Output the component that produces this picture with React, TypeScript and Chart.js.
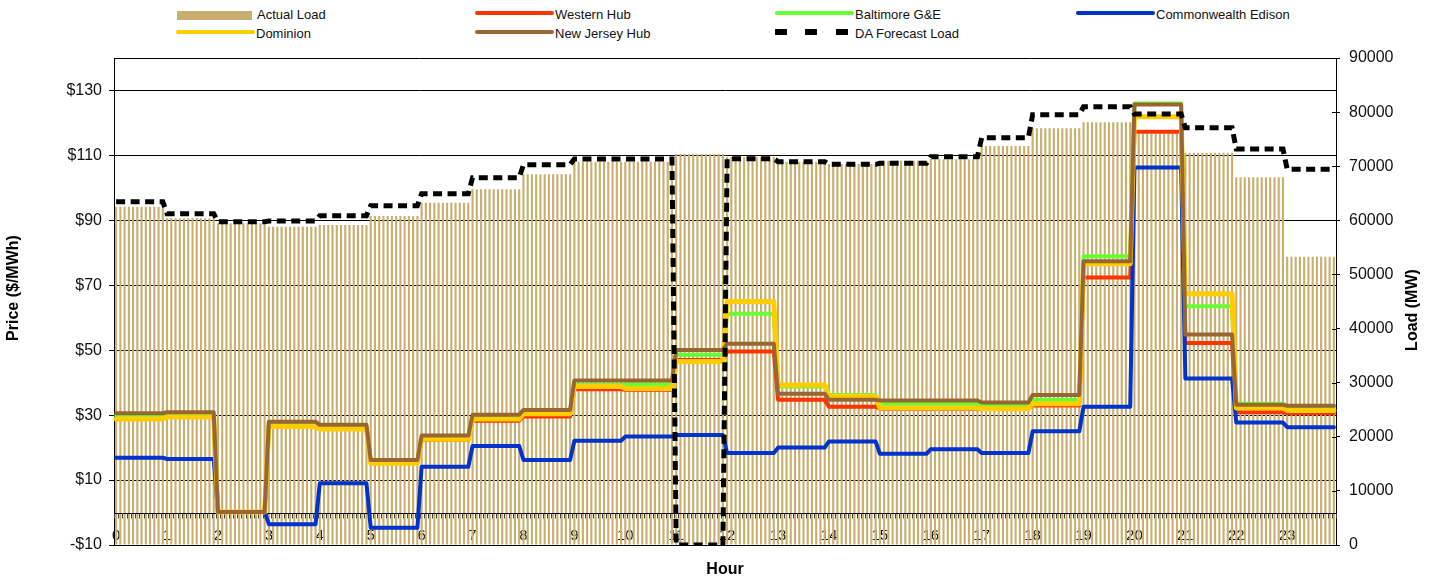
import React, { useEffect, useRef } from 'react';
import { Chart, registerables } from 'chart.js';

Chart.register(...registerables);

// ---------- data (hourly values; each hour holds 12 five-minute intervals) ----------
const HOUR_LABELS = ['0', '1', '2', '3', '4', '5', '6', '7', '8', '9', '10', '11', '12', '13', '14', '15', '16', '17', '18', '19', '20', '21', '22', '23'];
const INTERVALS_PER_HOUR = 12;

const ACTUAL_LOAD = [62520, 60370, 59450, 58830, 59140, 60800, 63260, 65730, 68500, 70840, 70840, 72260, 71700, 70840, 70410, 71020, 71280, 73740, 77010, 78120, 76000, 72500, 67950, 53280];
const DA_FORECAST_LOAD = [63450, 61230, 59750, 59880, 60860, 62710, 64930, 67880, 70290, 71340, 71340, 0, 71400, 70840, 70350, 70540, 71770, 75280, 79520, 81000, 79650, 77120, 73180, 69430];

const WESTERN_HUB = [29.0, 29.5, 0.2, 26.8, 26.0, 15.5, 22.4, 28.3, 29.6, 38.0, 37.8, 47.0, 49.6, 34.7, 32.6, 32.0, 32.0, 32.0, 33.0, 72.4, 117.3, 52.2, 30.9, 30.6];
const BALTIMORE_GE = [29.8, 30.0, 0.2, 27.5, 26.5, 15.8, 23.0, 29.5, 31.0, 39.3, 39.4, 48.6, 61.2, 38.8, 36.2, 33.5, 33.5, 33.2, 34.7, 78.9, 126.0, 63.5, 33.5, 32.5];
const COMMONWEALTH_EDISON = [16.9, 16.5, 0.2, -3.6, 9.0, -4.7, 14.1, 20.5, 16.2, 22.1, 23.4, 23.9, 18.3, 20.0, 21.9, 18.1, 19.5, 18.3, 25.0, 32.6, 106.3, 41.3, 27.7, 26.3];
const DOMINION = [28.8, 29.4, 0.2, 26.5, 25.7, 15.2, 22.6, 28.8, 30.4, 38.8, 38.2, 46.5, 65.0, 39.3, 35.8, 32.2, 32.2, 32.0, 33.5, 76.6, 121.9, 67.4, 32.2, 31.4];
const NEW_JERSEY_HUB = [30.6, 30.9, 0.2, 28.0, 27.0, 16.2, 23.7, 30.1, 31.6, 40.7, 40.7, 50.1, 52.0, 36.6, 34.7, 34.5, 34.5, 33.9, 36.2, 77.4, 125.7, 54.8, 33.2, 32.9];

const PRICE_TICKS = [-10, 10, 30, 50, 70, 90, 110, 130];
const PRICE_MIN = -10;
const PRICE_MAX = 140;
const LOAD_MIN = 0;
const LOAD_MAX = 90000;
const LOAD_STEP = 10000;

// ---------- helpers ----------
function expandHourly(values: number[]): number[] {
  const out: number[] = [];
  values.forEach((v) => {
    for (let k = 0; k < INTERVALS_PER_HOUR; k++) out.push(v);
  });
  return out;
}

const CATEGORY_LABELS: string[] = [];
HOUR_LABELS.forEach((h) => {
  for (let k = 0; k < INTERVALS_PER_HOUR; k++) {
    CATEGORY_LABELS.push(h + ':' + String(k * 5).padStart(2, '0'));
  }
});

const FONT = "'Liberation Sans', Arial, Helvetica, sans-serif";
const BAR_COLOR = '#C9AF6F';
const C_WEST = '#FF3300';
const C_BALT = '#66FF33';
const C_COMED = '#0033CC';
const C_DOM = '#FFCC00';
const C_NJ = '#996633';

const overlayPlugin = {
  id: 'overlayPlugin',
  afterDatasetDraw(chart: any, args: any) {
    if (args.index !== 0) return;
    const { ctx, chartArea } = chart;
    const xs = chart.scales.x;
    const yp = chart.scales.yPrice;
    const y0 = Math.round(yp.getPixelForValue(0)) + 0.5;
    ctx.save();
    ctx.strokeStyle = '#000';
    ctx.lineWidth = 1;
    ctx.beginPath();
    ctx.moveTo(chartArea.left, y0);
    ctx.lineTo(chartArea.right, y0);
    ctx.stroke();
    const n = chart.data.labels.length;
    const half = (xs.getPixelForValue(1) - xs.getPixelForValue(0)) / 2;
    ctx.strokeStyle = '#444';
    ctx.beginPath();
    for (let i = 0; i <= n; i++) {
      const px = Math.round(xs.getPixelForValue(Math.min(i, n - 1)) + (i === n ? half : -half)) + 0.5;
      ctx.moveTo(px, y0);
      ctx.lineTo(px, y0 + 5);
    }
    ctx.stroke();
    ctx.restore();
  },
  afterDraw(chart: any) {
    const { ctx, chartArea } = chart;
    ctx.save();
    // top border of plot area
    ctx.strokeStyle = '#000';
    ctx.lineWidth = 1;
    ctx.beginPath();
    const yt = Math.round(chartArea.top) + 0.5;
    ctx.moveTo(chartArea.left, yt);
    ctx.lineTo(chartArea.right, yt);
    ctx.stroke();
    // inner tick marks on the load axis
    const yl = chart.scales.yLoad;
    ctx.beginPath();
    yl.ticks.forEach((t: any) => {
      const py = Math.round(yl.getPixelForValue(t.value)) + 0.5;
      ctx.moveTo(chartArea.right - 4, py);
      ctx.lineTo(chartArea.right, py);
    });
    ctx.stroke();
    // axis titles
    ctx.fillStyle = '#000';
    ctx.font = 'bold 16px ' + FONT;
    ctx.textAlign = 'center';
    ctx.textBaseline = 'middle';
    ctx.save();
    ctx.translate(14, 288);
    ctx.rotate(-Math.PI / 2);
    ctx.fillText('Price ($/MWh)', 0, 0);
    ctx.restore();
    ctx.save();
    ctx.translate(1413, 310);
    ctx.rotate(-Math.PI / 2);
    ctx.fillText('Load (MW)', 0, 0);
    ctx.restore();
    ctx.fillText('Hour', (chartArea.left + chartArea.right) / 2, 570);
    ctx.restore();
  },
};

type LegendItem = { label: string; kind: 'rect' | 'line' | 'dash'; color: string; x: number; row: number };
const LEGEND_ITEMS: LegendItem[] = [
  { label: 'Actual Load', kind: 'rect', color: BAR_COLOR, x: 177, row: 0 },
  { label: 'Western Hub', kind: 'line', color: C_WEST, x: 475, row: 0 },
  { label: 'Baltimore G&E', kind: 'line', color: C_BALT, x: 775, row: 0 },
  { label: 'Commonwealth Edison', kind: 'line', color: C_COMED, x: 1076, row: 0 },
  { label: 'Dominion', kind: 'line', color: C_DOM, x: 176, row: 1 },
  { label: 'New Jersey Hub', kind: 'line', color: C_NJ, x: 475, row: 1 },
  { label: 'DA Forecast Load', kind: 'dash', color: '#000', x: 775, row: 1 },
];

function Legend() {
  return (
    <>
      {LEGEND_ITEMS.map((it) => {
        const cy = it.row === 0 ? 13 : 32;
        const els: any[] = [];
        if (it.kind === 'rect') {
          els.push(<div key="s" style={{ position: 'absolute', left: it.x, top: 11, width: 75, height: 8.5, background: it.color }} />);
        } else if (it.kind === 'line') {
          els.push(<div key="s" style={{ position: 'absolute', left: it.x, top: cy - 2.2, width: 79, height: 4.5, borderRadius: 3, background: it.color }} />);
        } else {
          [0, 30, 61].forEach((dx, i) =>
            els.push(<div key={'d' + i} style={{ position: 'absolute', left: it.x + dx, top: cy - 3, width: 11.5, height: 6, background: it.color }} />)
          );
        }
        els.push(
          <div
            key="t"
            style={{
              position: 'absolute',
              left: it.x + 80,
              top: (it.row === 0 ? 19.3 : 38.3) - 11,
              fontFamily: FONT,
              fontSize: 13,
              lineHeight: '13px',
              color: '#111',
              whiteSpace: 'nowrap',
            }}
          >
            {it.label}
          </div>
        );
        return <React.Fragment key={it.label}>{els}</React.Fragment>;
      })}
    </>
  );
}

export default function App() {
  const canvasRef = useRef<HTMLCanvasElement | null>(null);

  useEffect(() => {
    if (!canvasRef.current) return;
    const lineDs = (label: string, data: number[], color: string, order: number, width = 4) => ({
      type: 'line' as const,
      label,
      data: expandHourly(data),
      borderColor: color,
      backgroundColor: color,
      borderWidth: width,
      pointRadius: 0,
      tension: 0,
      fill: false,
      borderCapStyle: 'round' as const,
      borderJoinStyle: 'round' as const,
      yAxisID: 'yPrice',
      order,
    });

    const chart = new Chart(canvasRef.current, {
      type: 'bar',
      data: {
        labels: CATEGORY_LABELS,
        datasets: [
          {
            type: 'bar',
            label: 'Actual Load',
            data: expandHourly(ACTUAL_LOAD),
            backgroundColor: BAR_COLOR,
            borderWidth: 0,
            barPercentage: 0.5,
            categoryPercentage: 1.0,
            yAxisID: 'yLoad',
            order: 7,
          } as any,
          lineDs('Western Hub', WESTERN_HUB, C_WEST, 6),
          lineDs('Baltimore G&E', BALTIMORE_GE, C_BALT, 5),
          lineDs('Commonwealth Edison', COMMONWEALTH_EDISON, C_COMED, 4),
          lineDs('Dominion', DOMINION, C_DOM, 3, 5),
          lineDs('New Jersey Hub', NEW_JERSEY_HUB, C_NJ, 2),
          {
            type: 'line',
            label: 'DA Forecast Load',
            data: expandHourly(DA_FORECAST_LOAD),
            borderColor: '#000',
            backgroundColor: '#000',
            borderWidth: 5,
            borderDash: [9, 5.5],
            pointRadius: 0,
            tension: 0,
            fill: false,
            yAxisID: 'yLoad',
            order: 1,
          } as any,
        ],
      },
      options: {
        responsive: false,
        maintainAspectRatio: false,
        animation: false,
        events: [],
        layout: { padding: { top: 58, left: 0, right: 0, bottom: 0 } },
        plugins: {
          legend: { display: false },
          tooltip: { enabled: false },
          title: { display: false },
        },
        scales: {
          x: {
            type: 'category',
            offset: true,
            z: 1,
            grid: { display: false, drawTicks: false },
            border: { display: false },
            ticks: {
              autoSkip: false,
              maxRotation: 0,
              minRotation: 0,
              mirror: true,
              padding: 0,
              color: '#111',
              font: { family: FONT, size: 15 },
              callback: (_v: any, i: number) => (i % INTERVALS_PER_HOUR === 0 ? HOUR_LABELS[i / INTERVALS_PER_HOUR] : ''),
            },
            afterFit: (s: any) => {
              s.height = 33;
            },
          },
          yPrice: {
            type: 'linear',
            position: 'left',
            min: PRICE_MIN,
            max: PRICE_MAX,
            afterBuildTicks: (s: any) => {
              s.ticks = PRICE_TICKS.map((v) => ({ value: v }));
            },
            grid: { color: '#000', lineWidth: 1, tickLength: 5, drawTicks: true },
            border: { display: true, color: '#000', width: 1 },
            ticks: {
              padding: 7,
              color: '#111',
              font: { family: FONT, size: 16 },
              callback: (v: any) => (v < 0 ? '-$' + Math.abs(v) : '$' + v),
            },
            afterFit: (s: any) => {
              s.width = 114;
            },
          },
          yLoad: {
            type: 'linear',
            position: 'right',
            min: LOAD_MIN,
            max: LOAD_MAX,
            grid: { drawOnChartArea: false, color: '#000', tickLength: 4, drawTicks: true },
            border: { display: true, color: '#000', width: 1 },
            ticks: {
              stepSize: LOAD_STEP,
              padding: 9,
              color: '#111',
              font: { family: FONT, size: 16 },
              callback: (v: any) => String(v),
            },
            afterFit: (s: any) => {
              s.width = 104;
            },
          },
        },
      },
      plugins: [overlayPlugin],
    } as any);

    return () => chart.destroy();
  }, []);

  return (
    <div style={{ position: 'absolute', left: 0, top: 0, width: 1440, height: 578, background: '#fff', overflow: 'hidden' }}>
      <Legend />
      <canvas ref={canvasRef} width={1440} height={578} style={{ position: 'absolute', left: 0, top: 0, display: 'block' }} />
    </div>
  );
}
